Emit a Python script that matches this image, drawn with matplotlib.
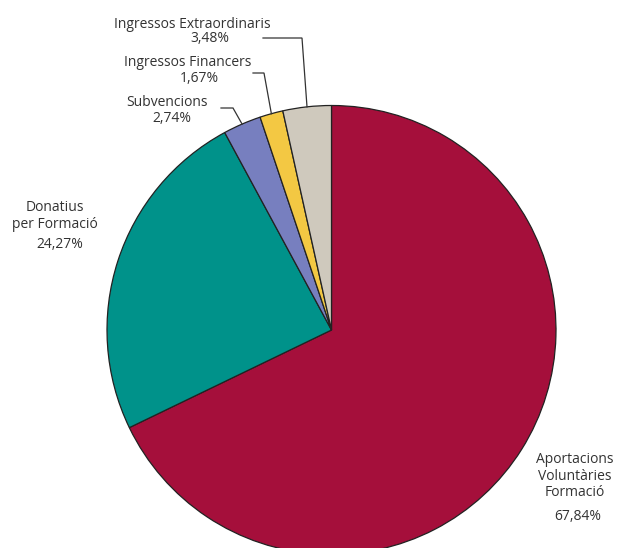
import numpy as np
import matplotlib.pyplot as plt

# dades (percentatges de la figura)
categories = ['Aportacions\nVoluntàries\nFormació', 'Donatius\nper Formació', 'Subvencions',
              'Ingressos Financers', 'Ingressos Extraordinaris']
valors = [67.84, 24.27, 2.74, 1.67, 3.48]
etiquetes_pct = ['67,84%', '24,27%', '2,74%', '1,67%', '3,48%']
colors = ['#A50F3B', '#00928A', '#777FBF', '#F3C843', '#CFC9BD']

W, H = 618, 548
CX, CY, R = 331.5, H - 330, 224.5

plt.rcParams['font.family'] = ['Open Sans', 'DejaVu Sans']
fig = plt.figure(figsize=(W / 100, H / 100), dpi=100)
ax = fig.add_axes([0, 0, 1, 1])

wedges, _ = ax.pie(valors, colors=colors, startangle=90, counterclock=False,
                   center=(CX, CY), radius=R,
                   wedgeprops=dict(edgecolor='#222222', linewidth=0.9))
ax.set_xlim(0, W)
ax.set_ylim(0, H)
ax.set_aspect('equal')
ax.axis('off')

txt = '#333333'
fs = 10

# punt mig de cada sector sobre la vora
def vora(w):
    ang = np.deg2rad((w.theta1 + w.theta2) / 2)
    return CX + R * np.cos(ang), CY + R * np.sin(ang)

# textos: (x, y en pixels des de dalt)
ax.text(575, H - 476, categories[0], ha='center', va='center', fontsize=fs,
        color=txt, linespacing=1.15)
ax.text(578, H - 516, etiquetes_pct[0], ha='center', va='center', fontsize=fs, color=txt)

ax.text(55, H - 216, categories[1], ha='center', va='center', fontsize=fs,
        color=txt, linespacing=1.15)
ax.text(60, H - 245, etiquetes_pct[1], ha='center', va='center', fontsize=fs, color=txt)

ax.text(167, H - 103, categories[2], ha='center', va='center', fontsize=fs, color=txt)
ax.text(172, H - 119, etiquetes_pct[2], ha='center', va='center', fontsize=fs, color=txt)

ax.text(188, H - 63, categories[3], ha='center', va='center', fontsize=fs, color=txt)
ax.text(199, H - 79, etiquetes_pct[3], ha='center', va='center', fontsize=fs, color=txt)

ax.text(192, H - 24, categories[4], ha='center', va='center', fontsize=fs, color=txt)
ax.text(210, H - 39, etiquetes_pct[4], ha='center', va='center', fontsize=fs, color=txt)

# linies guia (colze i final horitzontal)
guies = {2: ((233, 108), (221, 108)),
         3: ((264, 73), (253, 73)),
         4: ((302, 38), (263, 38))}
for i, (colze, final) in guies.items():
    x0, y0 = vora(wedges[i])
    ax.plot([x0, colze[0], final[0]], [y0, H - colze[1], H - final[1]],
            color='#333333', linewidth=0.9, solid_joinstyle='miter')

fig.savefig('out.png', dpi=100)
